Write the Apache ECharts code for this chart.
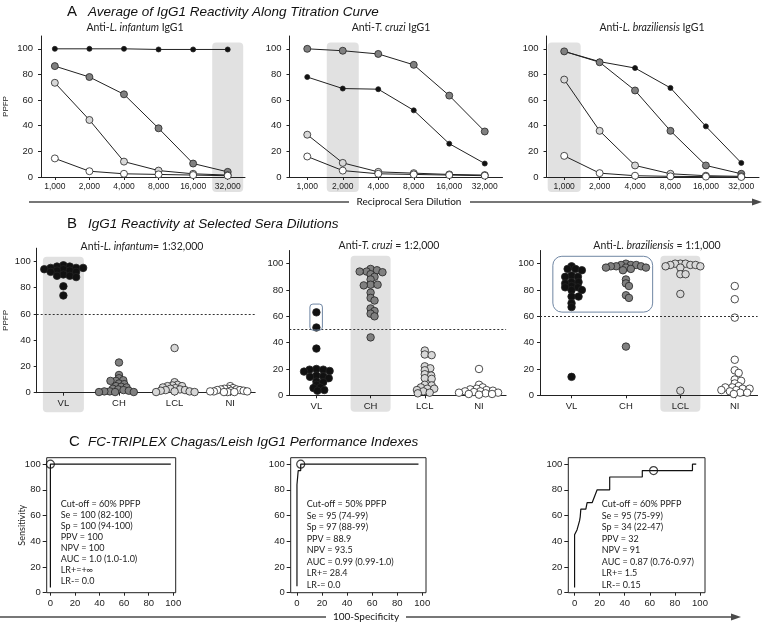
<!DOCTYPE html>
<html>
<head>
<meta charset="utf-8">
<script src="https://cdn.jsdelivr.net/npm/echarts@6/dist/echarts.min.js"></script>
<style>
html, body { margin: 0; padding: 0; background: #fff; }
#chart { width: 764px; height: 626px; }
</style>
</head>
<body>
<div id="chart"></div>
<script>
// A: titration curve, x = dilution index
const dilutions = ['1,000', '2,000', '4,000', '8,000', '16,000', '32,000']
const titInfVL = [100, 100, 100, 99.5, 99.5, 99.5]
const titInfCH = [86.5, 78, 64.5, 38, 10.5, 4]
const titInfLCL = [73.5, 44.5, 12, 5, 2.5, 1.5]
const titInfNI = [14.5, 4.5, 2.5, 2, 1.5, 1]
const titCruVL = [78, 69, 68.5, 52, 26, 10.5]
const titCruCH = [100, 98.5, 96, 87.5, 63.5, 35.5]
const titCruLCL = [33, 11, 4, 3, 2, 1.5]
const titCruNI = [16, 5, 2.5, 2, 1.5, 1]
const titBraVL = [98, 90, 85, 69.5, 39.5, 11]
const titBraCH = [98, 89.5, 67.5, 36, 9, 2.5]
const titBraLCL = [76, 36, 9, 2.5, 1, 0.5]
const titBraNI = [16.5, 3, 1, 0.5, 0.3, 0]

// B: single dilution, per patient
const groups = ['VL', 'CH', 'LCL', 'NI']
const selInfVL = [97, 96, 96, 95, 95, 95, 94, 94, 93, 93, 92, 92, 90, 89, 89, 88, 81, 74]
const selInfCH = [23, 13.5, 11, 9.5, 9, 9, 7, 6.5, 5, 4.5, 4, 3, 2.5, 2, 1.5, 1, 1, 0.5, 0.5, 0.5]
const selInfLCL = [34, 8, 6, 5.5, 5, 5, 4, 3.5, 3, 2.5, 2, 2, 1.5, 1, 1, 0.5, 0.5]
const selInfNI = [5, 3.5, 3, 3, 2.5, 2.5, 2, 2, 1.5, 1.5, 1, 1, 1, 0.5, 0.5, 0.5]
const selCruVL = [63, 51.5, 35.5, 20, 19.5, 19.5, 18.5, 18, 15, 14.5, 14, 13, 10.5, 10, 8, 6, 5.5, 4, 3.5]
const selCruCH = [96, 95, 94, 94, 93.5, 92, 90, 88, 84, 84, 83.5, 78, 74, 72, 66, 64, 62, 60, 44]
const selCruLCL = [34, 31, 30.5, 22, 20.5, 19, 16, 15, 13, 12.5, 8, 7.5, 6, 5, 5, 4, 3, 2, 1.5]
const selCruNI = [20, 8, 6, 5, 4.5, 4, 3.5, 3, 3, 2.5, 2, 2, 1.5, 1, 1, 0.5]
const selBraVL = [98, 96, 96, 95, 91, 90, 90, 86, 86, 85, 83, 82, 82, 80, 80, 75, 75, 70, 67, 14]
const selBraCH = [100, 99, 99, 99, 98, 98, 98, 97, 97, 97, 96, 95, 88, 85, 83, 76, 74, 37]
const selBraLCL = [100, 100, 100, 99, 99, 99, 98, 98, 97, 92, 92, 77, 3.5]
const selBraNI = [83, 73, 59, 27, 19, 17, 12, 11, 9, 7, 6, 6, 5, 5, 4, 4, 3, 2, 2, 1]
const cutoffs = [60, 50, 60]

// C: ROC curves [100-specificity, sensitivity]
const rocInf = [[0, 4], [0, 100], [98, 100]]
const rocInfCut = [[0, 100]]
const rocCru = [[0, 5], [0, 84], [1, 84], [1, 95], [3, 95], [3, 100], [97, 100]]
const rocCruCut = [[3, 100]]
const rocBra = [[0, 4], [0, 45], [2, 49], [3, 50], [4, 56], [4.5, 59], [5, 65], [9, 65], [10, 70], [14, 70],
  [16, 75], [18, 80], [28, 80], [28, 90], [54, 90], [54, 95], [94, 95], [94, 100], [97, 100]]
const rocBraCut = [[63, 95]]
const statsInf = ['Cut-off = 60% PPFP', 'Se = 100 (82-100)', 'Sp = 100 (94-100)', 'PPV = 100', 'NPV = 100', 'AUC = 1.0 (1.0-1.0)', 'LR+=+∞', 'LR-= 0.0']
const statsCru = ['Cut-off = 50% PPFP', 'Se = 95 (74-99)', 'Sp = 97 (88-99)', 'PPV = 88.9', 'NPV = 93.5', 'AUC = 0.99 (0.99-1.0)', 'LR+= 28.4', 'LR-= 0.0']
const statsBra = ['Cut-off = 60% PPFP', 'Se = 95 (75-99)', 'Sp = 34 (22-47)', 'PPV = 32', 'NPV = 91', 'AUC = 0.87 (0.76-0.97)', 'LR+= 1.5', 'LR-= 0.15']

const colors = ['#111111', '#808080', '#d8d8d8', '#ffffff']
const ARIAL = 'Liberation Sans'
const CALIBRI = 'Lato'
const INK = '#222'

// grid layout
const grids = [
  { left: 41, top: 36, width: 204, height: 141 },
  { left: 289.5, top: 36, width: 213, height: 141 },
  { left: 546.5, top: 36, width: 212.5, height: 141 },
  { left: 36.7, top: 248.2, width: 218.5, height: 144.5 },
  { left: 289.3, top: 250.5, width: 216.8, height: 144.8 },
  { left: 540, top: 250.5, width: 217.6, height: 144.8 },
  { left: 46.7, top: 457.7, width: 129, height: 135, show: true, borderColor: INK, borderWidth: 1 },
  { left: 290.7, top: 457.7, width: 135.3, height: 135, show: true, borderColor: INK, borderWidth: 1 },
  { left: 568.3, top: 457.7, width: 136.7, height: 135, show: true, borderColor: INK, borderWidth: 1 }
]
const xRanges = [[-0.4, 5.5], [-0.5, 5.5], [-0.5, 5.5], [-0.48, 3.45], [-0.5, 3.5], [-0.58, 3.42], [-3, 102], [-5, 103], [-5, 104]]

// beeswarm: horizontal pixel offsets; vertical gaps are stretched (dots may overlap a bit)
// and the result is squeezed to a max half-width
function swarm(vals, unitPx, d, stretch, limit) {
  const placed = []
  const offs = vals.map(v => {
    const y = v * unitPx * stretch
    const cands = [0]
    placed.forEach(p => {
      const dy = Math.abs(p.y - y)
      if (dy < d) {
        const dx = Math.sqrt(d * d - dy * dy)
        cands.push(p.x + dx, p.x - dx)
      }
    })
    cands.sort((a, b) => Math.abs(a) - Math.abs(b))
    const x = cands.find(c => placed.every(p => (p.x - c) ** 2 + (p.y - y) ** 2 >= d * d - 0.01))
    placed.push({ x, y })
    return x
  })
  const m = Math.max(...offs.map(Math.abs))
  const k = m > limit ? limit / m : 1
  return offs.map(o => o * k)
}

const xAxes = []
const yAxes = []
grids.forEach((g, i) => {
  g.outerBoundsMode = 'none'
  g.containLabel = false
  const panel = Math.floor(i / 3)
  const isC = panel === 2
  const xTicks = panel === 0 ? [0, 1, 2, 3, 4, 5] : panel === 1 ? [0, 1, 2, 3] : [0, 20, 40, 60, 80, 100]
  xAxes.push({
    type: 'value', gridIndex: i, min: xRanges[i][0], max: xRanges[i][1],
    axisLine: { show: !isC, onZero: false, lineStyle: { color: INK, width: 1 } },
    axisTick: { show: true, length: 3, customValues: xTicks, lineStyle: { color: INK } },
    axisLabel: {
      customValues: xTicks, margin: panel === 0 ? 5 : 6,
      fontFamily: ARIAL, fontSize: panel === 0 ? 8.5 : 9.5, color: INK,
      formatter: v => panel === 0 ? dilutions[v] : panel === 1 ? groups[v] : String(v)
    },
    splitLine: { show: false }
  })
  yAxes.push({
    type: 'value', gridIndex: i, min: 0, max: isC ? 105 : 110,
    name: i === 0 || i === 3 ? 'PPFP' : i === 6 ? 'Sensitivity' : '',
    nameLocation: 'middle', nameGap: i === 0 ? 31 : i === 3 ? 27 : 20, nameMoveOverlap: false,
    nameTextStyle: { fontFamily: isC ? CALIBRI : ARIAL, fontSize: isC ? 9 : 8, color: INK },
    axisLine: { show: !isC, onZero: false, lineStyle: { color: INK, width: 1 } },
    axisTick: { show: true, length: isC ? 4 : 3, customValues: [0, 20, 40, 60, 80, 100], lineStyle: { color: INK } },
    axisLabel: { customValues: [0, 20, 40, 60, 80, 100], margin: panel === 0 ? 8 : 6, fontFamily: ARIAL, fontSize: 9.5, color: INK },
    splitLine: { show: false }
  })
})

const series = []
// panel A lines
const titSets = [
  [titInfVL, titInfCH, titInfLCL, titInfNI],
  [titCruVL, titCruCH, titCruLCL, titCruNI],
  [titBraVL, titBraCH, titBraLCL, titBraNI]
]
titSets.forEach((set, gi) => {
  set.forEach((vals, k) => {
    series.push({
      type: 'line', xAxisIndex: gi, yAxisIndex: gi,
      data: vals.map((v, j) => [j, v]),
      symbol: 'circle', symbolSize: k === 0 ? 5 : 7,
      lineStyle: { color: INK, width: 1 },
      itemStyle: { color: colors[k], borderColor: INK, borderWidth: 0.8 },
      z: 3 + k
    })
  })
})
// panel B swarms
const selSets = [
  [selInfVL, selInfCH, selInfLCL, selInfNI],
  [selCruVL, selCruCH, selCruLCL, selCruNI],
  [selBraVL, selBraCH, selBraLCL, selBraNI]
]
selSets.forEach((set, p) => {
  const gi = 3 + p
  const unitPx = grids[gi].height / 110
  set.forEach((vals, k) => {
    const offs = swarm(vals, unitPx, 7, 2.2, 20)
    series.push({
      type: 'scatter', xAxisIndex: gi, yAxisIndex: gi,
      data: vals.map((v, j) => ({ value: [k, v], symbolOffset: [offs[j], 0] })),
      symbol: 'circle', symbolSize: 7.5,
      itemStyle: { color: colors[k], borderColor: INK, borderWidth: 0.8, opacity: 1 },
      markLine: k === 0 ? {
        silent: true, symbol: 'none', label: { show: false },
        lineStyle: { color: '#333', type: [2, 2], width: 1 },
        data: [{ yAxis: cutoffs[p] }]
      } : undefined
    })
  })
})
// panel C ROC
const rocSets = [[rocInf, rocInfCut], [rocCru, rocCruCut], [rocBra, rocBraCut]]
rocSets.forEach((r, p) => {
  const gi = 6 + p
  series.push({
    type: 'line', xAxisIndex: gi, yAxisIndex: gi, data: r[0], symbol: 'none',
    lineStyle: { color: '#111', width: 1.2 }
  })
  series.push({
    type: 'scatter', xAxisIndex: gi, yAxisIndex: gi, data: r[1], symbol: 'circle', symbolSize: 8,
    itemStyle: { color: 'rgba(0,0,0,0)', borderColor: '#111', borderWidth: 1.2 }
  })
})

const chart = echarts.init(document.getElementById('chart'), null, { renderer: 'canvas' })
chart.setOption({
  animation: false,
  backgroundColor: '#fff',
  grid: grids,
  xAxis: xAxes,
  yAxis: yAxes,
  series: series
})

// decorations that depend on axis scales
const px = (gi, x, y) => chart.convertToPixel({ gridIndex: gi }, [x, y])
function shade(gi, x, topVal, below, w) {
  const t = px(gi, x, topVal)
  const b = px(gi, x, 0)
  return { type: 'rect', z: -10, shape: { x: t[0] - w / 2, y: t[1], width: w, height: b[1] + below - t[1], r: 4 }, style: { fill: '#e1e1e1' } }
}
function outline(gi, x0, x1, y0, y1, padL, padR, r) {
  const a = px(gi, x0, y0)
  const b = px(gi, x1, y1)
  return { type: 'rect', z: 10, shape: { x: a[0] - padL, y: a[1], width: b[0] + padR - a[0] + padL, height: b[1] - a[1], r: r }, style: { fill: 'none', stroke: '#6f86a3', lineWidth: 1 } }
}
function rich(x, y, pre, it, post, size) {
  return {
    type: 'text', x: x, y: y, z: 20,
    style: {
      text: '{n|' + pre + '}{i|' + it + '}{n|' + post + '}',
      align: 'center', verticalAlign: 'middle',
      rich: {
        n: { fontFamily: CALIBRI, fontSize: size, fill: INK },
        i: { fontFamily: CALIBRI, fontSize: size, fontStyle: 'italic', fill: INK }
      }
    }
  }
}
function label(x, y, txt, font, size, italic, align) {
  return { type: 'text', x: x, y: y, z: 20, style: { text: txt, fontFamily: font, fontSize: size, fontStyle: italic ? 'italic' : 'normal', fill: '#111', align: align || 'left', verticalAlign: 'middle' } }
}
function stats(x, y, lines, lh) {
  return { type: 'text', x: x, y: y, z: 20, style: { text: lines.join('\n'), fontFamily: CALIBRI, fontSize: 9, lineHeight: lh, fill: INK, align: 'left', verticalAlign: 'top' } }
}
function arrow(y, x0, xa, xb, x1, txt, tx) {
  const ls = { stroke: '#4a4a4a', lineWidth: 1.6 }
  return [
    { type: 'line', shape: { x1: x0, y1: y, x2: xa, y2: y }, style: ls },
    { type: 'line', shape: { x1: xb, y1: y, x2: x1 - 8, y2: y }, style: ls },
    { type: 'polygon', shape: { points: [[x1 - 10, y - 3.5], [x1, y], [x1 - 10, y + 3.5]] }, style: { fill: '#4a4a4a' } },
    label(tx, y, txt, CALIBRI, 10, false, 'center')
  ]
}

const g = [
  shade(0, 5, 105, 15, 31), shade(1, 1, 105, 15, 32), shade(2, 0, 105, 15, 33),
  shade(3, 0, 103.5, 19.5, 41), shade(4, 1, 106, 16.5, 40), shade(5, 2, 106, 16.5, 40),
  outline(4, 0, 0, 69.3, 49.5, 6.5, 6, 3),
  outline(5, 0, 1, 105.6, 63.2, 18.7, 26.7, 9),
  label(67, 12, 'A', ARIAL, 15), label(88, 12, 'Average of IgG1 Reactivity Along Titration Curve', ARIAL, 13.5, true),
  label(67, 224, 'B', ARIAL, 15), label(88, 224, 'IgG1 Reactivity at Selected Sera Dilutions', ARIAL, 13.5, true),
  label(69, 442, 'C', ARIAL, 15), label(88, 442, 'FC-TRIPLEX Chagas/Leish IgG1 Performance Indexes', ARIAL, 13.5, true),
  rich(135, 28, 'Anti-', 'L. infantum', ' IgG1', 10.5),
  rich(391, 28, 'Anti-', 'T. cruzi', ' IgG1', 10.5),
  rich(652, 28, 'Anti-', 'L. braziliensis', ' IgG1', 10.5),
  rich(142, 247, 'Anti-', 'L. infantum', '= 1:32,000', 10.5),
  rich(389, 246, 'Anti-', 'T. cruzi', ' = 1:2,000', 10.5),
  rich(657, 246, 'Anti-', 'L. braziliensis', ' = 1:1,000', 10.5),
  stats(60.7, 498.5, statsInf, 11),
  stats(306.7, 498.5, statsCru, 11.5),
  stats(601.7, 498.5, statsBra, 11.5)
].concat(arrow(202, 29, 349, 470, 762, 'Reciprocal Sera Dilution', 409))
  .concat(arrow(617, 0, 326, 406, 741, '100-Specificity', 366))

chart.setOption({ graphic: { elements: g } })
</script>
</body>
</html>
